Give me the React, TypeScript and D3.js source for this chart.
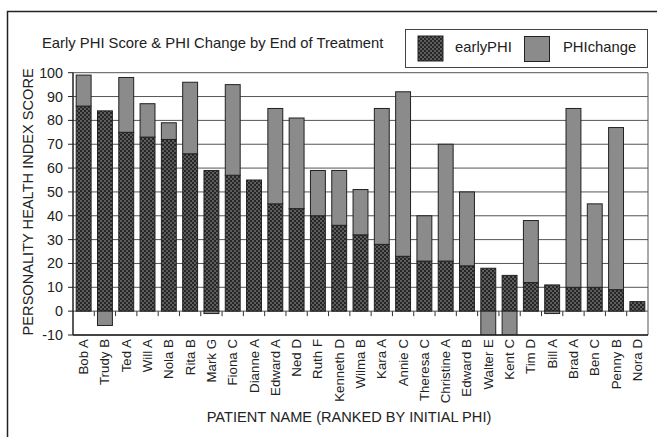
import * as d3 from "d3";

const patients = [
  "Bob A", "Trudy B", "Ted A", "Will A", "Nola B", "Rita B", "Mark G", "Fiona C", "Dianne A",
  "Edward A", "Ned D", "Ruth F", "Kenneth D", "Wilma B", "Kara A", "Annie C", "Theresa C",
  "Christine A", "Edward B", "Walter E", "Kent C", "Tim D", "Bill A", "Brad A", "Ben C",
  "Penny B", "Nora D",
];
const earlyPHI = [86, 84, 75, 73, 72, 66, 59, 57, 55, 45, 43, 40, 36, 32, 28, 23, 21, 21, 19, 18, 15, 12, 11, 10, 10, 9, 4];
const PHIchange = [13, -6, 23, 14, 7, 30, -1, 38, 0, 40, 38, 19, 23, 19, 57, 69, 19, 49, 31, -10, -10, 26, -1, 75, 35, 68, 0];
const seriesKeys = ["earlyPHI", "PHIchange"];
const yTicks = [-10, 0, 10, 20, 30, 40, 50, 60, 70, 80, 90, 100];

const W = 657;
const H = 437;
const FONT = "Liberation Sans, Arial, sans-serif";

export default function App() {
  const left = 73, right = 648, top = 72.7, bottom = 335;

  const x = d3.scaleBand<string>().domain(patients).range([left, right]).paddingInner(0.3).paddingOuter(0.15);
  const y = d3.scaleLinear().domain([-10, 100]).range([bottom, top]);

  const rows = patients.map((p, i) => ({ name: p, earlyPHI: earlyPHI[i], PHIchange: PHIchange[i] }));
  const stacked = d3.stack<any>().keys(seriesKeys).offset(d3.stackOffsetDiverging)(rows);
  const fills: Record<string, string> = { earlyPHI: "url(#dots)", PHIchange: "#8b8b8b" };

  const bw = x.bandwidth();
  const step = x.step();

  return (
    <svg width={W} height={H} style={{ position: "absolute", left: 0, top: 0, background: "#fff" }} fontFamily={FONT}>
      <defs>
        <pattern id="dots" width="4" height="4" patternUnits="userSpaceOnUse">
          <rect width="4" height="4" fill="#262626" />
          <circle cx="1" cy="1" r="0.75" fill="#b0b0b0" />
          <circle cx="3" cy="3" r="0.75" fill="#b0b0b0" />
        </pattern>
        <clipPath id="plot">
          <rect x={left} y={top - 2} width={right - left} height={bottom - top + 2} />
        </clipPath>
      </defs>

      {/* outer frame */}
      <rect x={7.5} y={11.5} width={700} height={500} fill="none" stroke="#222" strokeWidth={1.5} />

      <text x={42} y={48} fontSize={14.8} fill="#222">Early PHI Score &amp; PHI Change by End of Treatment</text>

      {/* legend */}
      <rect x={405.5} y={29.5} width={242} height={38} fill="#fff" stroke="#444" />
      <rect x={418} y={36} width={25} height={25} fill="url(#dots)" stroke="#222" />
      <text x={455} y={52} fontSize={14.8} fill="#222">earlyPHI</text>
      <rect x={524.5} y={36.5} width={25} height={25} fill="#8b8b8b" stroke="#222" />
      <text x={563} y={52} fontSize={14.8} fill="#222">PHIchange</text>

      {/* grid */}
      {yTicks.map((t) => (
        <line key={t} x1={left} x2={right} y1={y(t)} y2={y(t)} stroke="#555" strokeWidth={1} />
      ))}
      <line x1={right} x2={right} y1={top} y2={bottom} stroke="#555" />

      {/* bars */}
      <g clipPath="url(#plot)">
        {stacked.map((s) => (
          <g key={s.key} fill={fills[s.key]} stroke="#222" strokeWidth={1}>
            {s.map((d, i) => {
              const h = Math.abs(y(d[0]) - y(d[1]));
              if (h < 0.01) return null;
              return (
                <rect key={i} x={x(patients[i])!} y={Math.min(y(d[0]), y(d[1]))} width={bw} height={h} />
              );
            })}
          </g>
        ))}
      </g>

      {/* x ticks along zero line */}
      {patients.map((p, i) => {
        const xx = (x(p)! - (step - bw) / 2);
        return i === 0 ? null : <line key={p} x1={xx} x2={xx} y1={y(0)} y2={y(0) + 5} stroke="#333" />;
      })}

      {/* axes */}
      <line x1={left} x2={left} y1={top} y2={bottom} stroke="#222" strokeWidth={1.5} />
      <line x1={left} x2={right} y1={bottom} y2={bottom} stroke="#222" strokeWidth={1.5} />
      {yTicks.map((t) => (
        <g key={t}>
          <line x1={left - 5} x2={left} y1={y(t)} y2={y(t)} stroke="#222" />
          <text x={63} y={y(t) + 5} textAnchor="end" fontSize={14.3} fill="#222">{t}</text>
        </g>
      ))}

      {patients.map((p) => {
        const cx = x(p)! + bw / 2 + 4.5;
        return (
          <text key={p} transform={`translate(${cx},339) rotate(-90)`} textAnchor="end" fontSize={13.3} fill="#222">{p}</text>
        );
      })}

      <text transform={`translate(33,${(top + bottom) / 2 - 2}) rotate(-90)`} textAnchor="middle" fontSize={14.6} fill="#222">PERSONALITY HEALTH INDEX SCORE</text>
      <text x={349} y={422} textAnchor="middle" fontSize={14.6} fill="#222">PATIENT NAME (RANKED BY INITIAL PHI)</text>
    </svg>
  );
}
